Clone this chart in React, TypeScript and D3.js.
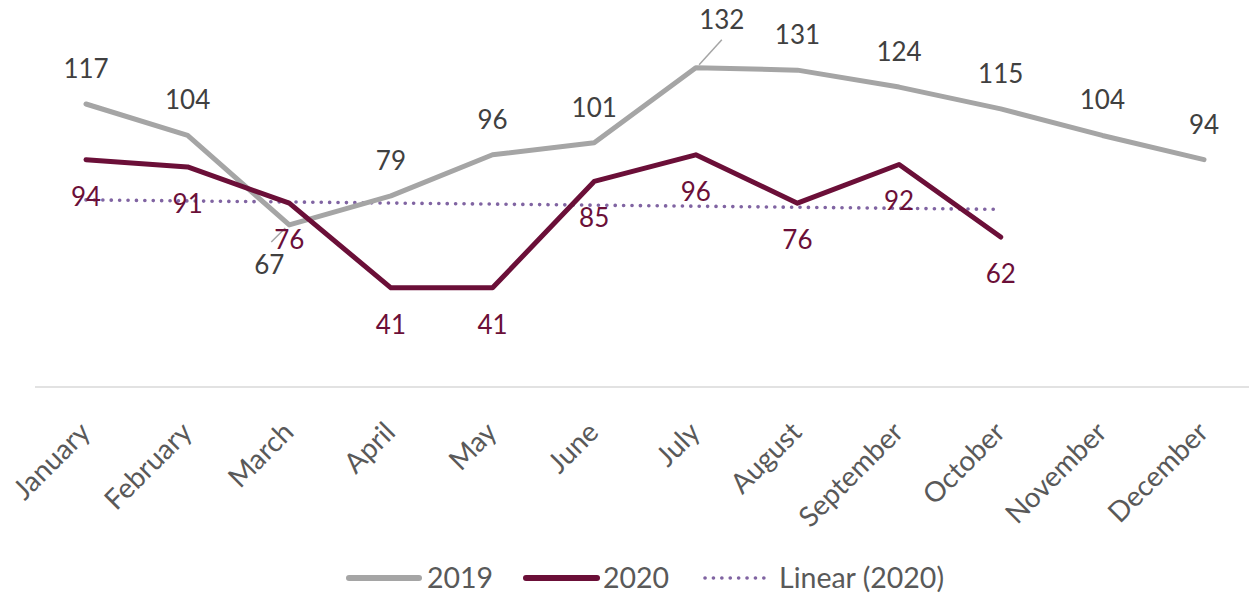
import React from "react";
import * as d3 from "d3";

const months = ["January","February","March","April","May","June","July","August","September","October","November","December"];
const values2019 = [117,104,67,79,96,101,132,131,124,115,104,94];
const values2020 = [94,91,76,41,41,85,96,76,92,62];
const legendLabels = ["2019","2020","Linear (2020)"];

const W = 1249, H = 594;
const GRAY = "#A5A5A5";
const MAROON = "#6B0F38";
const PURPLE = "#8064A2";
const FONT = "Lato, 'Open Sans', sans-serif";

export default function App() {
  const x = d3.scalePoint<string>().domain(months).range([86, 1204]);
  const y = d3.scaleLinear().domain([0, 160]).range([387, 0]);

  const line = d3.line<number>()
    .x((_, i) => x(months[i]) as number)
    .y(d => y(d));

  // least-squares linear trend of 2020
  const n = values2020.length;
  const xs = values2020.map((_, i) => i + 1);
  const mx = d3.mean(xs) as number;
  const my = d3.mean(values2020) as number;
  const sxy = d3.sum(xs, (xi, i) => (xi - mx) * (values2020[i] - my));
  const sxx = d3.sum(xs, xi => (xi - mx) * (xi - mx));
  const slope = sxy / sxx;
  const trendAt = (k: number) => my + slope * (k - mx);
  const t0 = { x: x(months[0]) as number, y: y(trendAt(1)) };
  const t1 = { x: x(months[n - 1]) as number, y: y(trendAt(n)) };

  // label placement overrides (pixel offsets from point)
  const off2019: Record<number, [number, number]> = { 2: [-20, 49], 6: [26, -39] };

  return (
    <svg width={W} height={H} style={{ position: "absolute", left: 0, top: 0, background: "#fff" }} fontFamily={FONT}>
      {/* axis line */}
      <line x1={35} x2={W} y1={387} y2={387} stroke="#D9D9D9" strokeWidth={1.5} />
      {/* month labels */}
      {months.map(m => {
        const px = (x(m) as number) + 6;
        const py = 434;
        return (
          <text key={m} x={px} y={py} transform={`rotate(-45 ${px} ${py})`} textAnchor="end"
            fontSize={28} fill="#595959">{m}</text>
        );
      })}
      {/* trendline */}
      <line x1={t0.x} y1={t0.y} x2={t1.x} y2={t1.y} stroke={PURPLE} strokeWidth={3.6}
        strokeDasharray="0.1 8.3" strokeLinecap="round" />
      {/* series */}
      <path d={line(values2019) as string} fill="none" stroke={GRAY} strokeWidth={5} strokeLinejoin="round" strokeLinecap="round" />
      <path d={line(values2020) as string} fill="none" stroke={MAROON} strokeWidth={5} strokeLinejoin="round" strokeLinecap="round" />
      {/* leader lines */}
      {Object.keys(off2019).map(k => {
        const i = +k;
        const px = x(months[i]) as number, py = y(values2019[i]);
        const [dx, dy] = off2019[i];
        const ex = px + dx * 0.05 + (dx > 0 ? 2 : -3);
        const ey = py + (dy > 0 ? 3 : -3);
        const lx = px + dx * (dx > 0 ? 1 : 0.9);
        const ly = py + (dy > 0 ? 17 : -28);
        return <line key={"ld" + k} x1={ex} y1={ey} x2={lx} y2={ly} stroke={GRAY} strokeWidth={1.5} />;
      })}
      {/* 2019 labels */}
      {values2019.map((v, i) => {
        const px = x(months[i]) as number, py = y(v);
        const [dx, dy] = off2019[i] ?? [0, -26];
        return <text key={"a" + i} x={px + dx} y={py + dy} textAnchor="middle" fontSize={26} fill="#404040">{v}</text>;
      })}
      {/* 2020 labels */}
      {values2020.map((v, i) => {
        const px = x(months[i]) as number, py = y(v);
        return <text key={"b" + i} x={px} y={py + 46} textAnchor="middle" fontSize={26} fill={MAROON}>{v}</text>;
      })}
      {/* legend */}
      <g fontSize={28.5} fill="#595959">
        <line x1={349} x2={419} y1={578} y2={578} stroke={GRAY} strokeWidth={6} strokeLinecap="round" />
        <text x={427} y={588}>{legendLabels[0]}</text>
        <line x1={526} x2={597} y1={578} y2={578} stroke={MAROON} strokeWidth={6} strokeLinecap="round" />
        <text x={603} y={588}>{legendLabels[1]}</text>
        <line x1={705} x2={772} y1={578} y2={578} stroke={PURPLE} strokeWidth={3.6} strokeDasharray="0.1 8.3" strokeLinecap="round" />
        <text x={779} y={588}>{legendLabels[2]}</text>
      </g>
    </svg>
  );
}
